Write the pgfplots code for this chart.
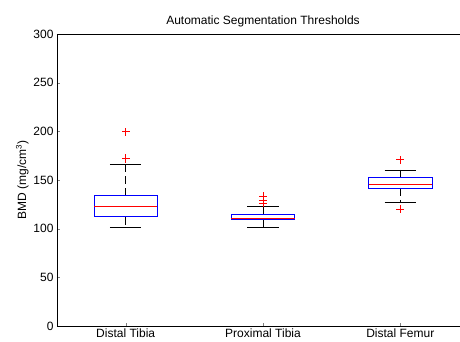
\documentclass[border=0pt]{standalone}
\usepackage{pgfplots}
\pgfplotsset{compat=1.18}
\usepgfplotslibrary{statistics}
\usepackage{fontspec}
\setmainfont{Liberation Sans}
\begin{document}
\begin{tikzpicture}
\useasboundingbox (-57pt,-16pt) rectangle (403pt,326pt);
\begin{axis}[
  at={(0,0)}, anchor=south west,
  scale only axis, width=412pt, height=292pt,
  xmin=0.5, xmax=3.5, ymin=0, ymax=300,
  xtick={1,2,3}, xticklabels={Distal Tibia, Proximal Tibia, Distal Femur},
  ytick={0,50,...,300},
  tick align=inside, xtick pos=bottom, ytick pos=left,
  major tick length=3pt,
  /pgf/number format/assume math mode=true,
  tick label style={font=\fontsize{12}{14}\selectfont},
  xticklabel style={yshift=1pt},
  title={Automatic Segmentation Thresholds},
  title style={font=\fontsize{12}{14}\selectfont, yshift=-3pt},
  ylabel={BMD (mg/cm\textsuperscript{3})},
  ylabel style={font=\fontsize{12}{14}\selectfont, yshift=-2pt},
  axis line style={black, line width=0.6pt},
  boxplot/draw direction=y,
  boxplot/box extend=0.46,
  boxplot/whisker extend=0.23,
  boxplot/every box/.style={draw=blue, line width=0.8pt},
  boxplot/every median/.style={draw=red, line width=0.8pt},
  boxplot/draw/lower whisker/.code={%
    \draw[black, line width=0.8pt, dash pattern=on 8pt off 4pt]
      (boxplot box cs:\pgfplotsboxplotvalue{lower quartile},0.5) --
      (boxplot box cs:\pgfplotsboxplotvalue{lower whisker},0.5);
    \draw[black, line width=0.8pt]
      (boxplot whisker cs:\pgfplotsboxplotvalue{lower whisker},0) --
      (boxplot whisker cs:\pgfplotsboxplotvalue{lower whisker},1);
  },
  boxplot/draw/upper whisker/.code={%
    \draw[black, line width=0.8pt, dash pattern=on 8pt off 4pt]
      (boxplot box cs:\pgfplotsboxplotvalue{upper whisker},0.5) --
      (boxplot box cs:\pgfplotsboxplotvalue{upper quartile},0.5);
    \draw[black, line width=0.8pt]
      (boxplot whisker cs:\pgfplotsboxplotvalue{upper whisker},0) --
      (boxplot whisker cs:\pgfplotsboxplotvalue{upper whisker},1);
  },
]
\addplot[black, boxplot prepared={draw position=1, lower whisker=101, lower quartile=112.3,
    median=123, upper quartile=134.3, upper whisker=166}]
  coordinates {};
\addplot[black, boxplot prepared={draw position=2, lower whisker=101.7, lower quartile=109.6,
    median=111, upper quartile=115, upper whisker=123}]
  coordinates {};
\addplot[black, boxplot prepared={draw position=3, lower whisker=127.4, lower quartile=141.8,
    median=145.6, upper quartile=152.4, upper whisker=160.3}]
  coordinates {};
% outliers drawn as red "+" crosses
\addplot[draw=none, mark=none,
  error bars/.cd, x dir=both, x fixed=0.03, y dir=both, y fixed=4.2,
  error mark=none, error bar style={draw=red, solid, line width=0.9pt}]
  coordinates {(1,199.6) (1,172) (2,133) (2,129.5) (2,126) (3,170.6) (3,120)};
\end{axis}
\end{tikzpicture}
\end{document}
